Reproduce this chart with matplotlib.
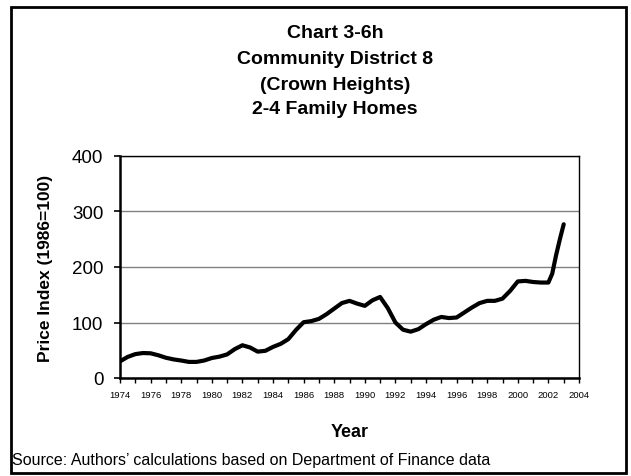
import matplotlib
matplotlib.use("Agg")
import matplotlib.pyplot as plt
from matplotlib.patches import Rectangle
from matplotlib.ticker import MultipleLocator

plt.rcParams['font.family'] = ['Liberation Sans', 'DejaVu Sans']

years = [1974.0, 1974.5, 1975.0, 1975.5, 1976.0, 1976.5, 1977.0, 1977.5, 1978.0, 1978.5,
         1979.0, 1979.5, 1980.0, 1980.5, 1981.0, 1981.5, 1982.0, 1982.5, 1983.0, 1983.5,
         1984.0, 1984.5, 1985.0, 1985.5, 1986.0, 1986.5, 1987.0, 1987.5, 1988.0, 1988.5,
         1989.0, 1989.5, 1990.0, 1990.5, 1991.0, 1991.5, 1992.0, 1992.5, 1993.0, 1993.5,
         1994.0, 1994.5, 1995.0, 1995.5, 1996.0, 1996.5, 1997.0, 1997.5, 1998.0, 1998.5,
         1999.0, 1999.5, 2000.0, 2000.5, 2001.0, 2001.5, 2002.0, 2002.25, 2002.5, 2002.75, 2003.0]
price_index = [30, 38, 43, 45, 44.5, 41, 36.5, 33.5, 31.5, 29,
               29, 31.5, 36, 38.5, 42.5, 52, 59, 55, 47.5, 49,
               56, 61.5, 70, 86.5, 100.5, 102.5, 106.5, 115, 125, 135,
               139, 134, 130, 140, 146, 126, 100, 87, 83.5, 88,
               97, 105, 110, 108, 109, 118, 127, 135, 139, 139,
               143, 157, 174, 175, 173, 172, 172, 188, 221, 250, 277]

title_lines = ["Chart 3-6h", "Community District 8", "(Crown Heights)", "2-4 Family Homes"]
y_ticks = [0, 100, 200, 300, 400]
x_ticks = list(range(1974, 2005, 2))

W, H = 631, 477
fig = plt.figure(figsize=(W / 100, H / 100), dpi=100)

ax = fig.add_axes([120 / W, 1 - 379 / H, (579 - 120) / W, (379 - 157) / H])
ax.plot(years, price_index, color='black', lw=3.0, solid_joinstyle='round', solid_capstyle='round')
ax.set_xlim(1974, 2004)
ax.set_ylim(0, 400)
ax.set_yticks(y_ticks)
ax.set_xticks(x_ticks)
ax.xaxis.set_minor_locator(MultipleLocator(1))
ax.tick_params(axis='y', labelsize=13.5, length=4, width=1.2, direction='out', pad=8)
ax.tick_params(axis='x', which='both', labelsize=6.8, length=3.5, width=1, direction='out', pad=5)
ax.grid(axis='y', color='#808080', lw=1)
ax.set_axisbelow(True)
for side in ['left', 'bottom']:
    ax.spines[side].set_linewidth(1.8)
for side in ['top', 'right']:
    ax.spines[side].set_linewidth(1.0)

ax.set_ylabel("Price Index (1986=100)", fontsize=12.5, fontweight='bold')
ax.yaxis.set_label_coords((46 - 120) / 459, 0.5)
ax.set_xlabel("Year", fontsize=13, fontweight='bold')
ax.xaxis.set_label_coords(0.5, -(433 - 379) / 222)
ax.xaxis.label.set_va('center')
ax.yaxis.label.set_va('center')

title_y = [33, 59, 85, 110]
for t, yy in zip(title_lines, title_y):
    fig.text(335 / W, 1 - yy / H, t, ha='center', va='center', fontsize=14, fontweight='bold')

fig.text(12 / W, 1 - 461 / H, "Source: Authors\u2019 calculations based on Department of Finance data",
         ha='left', va='center', fontsize=11.5)

fig.patches.append(Rectangle((10.5 / W, 1 - 473.5 / H), (626 - 10.5) / W, (473.5 - 8) / H,
                             transform=fig.transFigure, fill=False, edgecolor='black', lw=2.0))

fig.savefig("out.png", dpi=100)
